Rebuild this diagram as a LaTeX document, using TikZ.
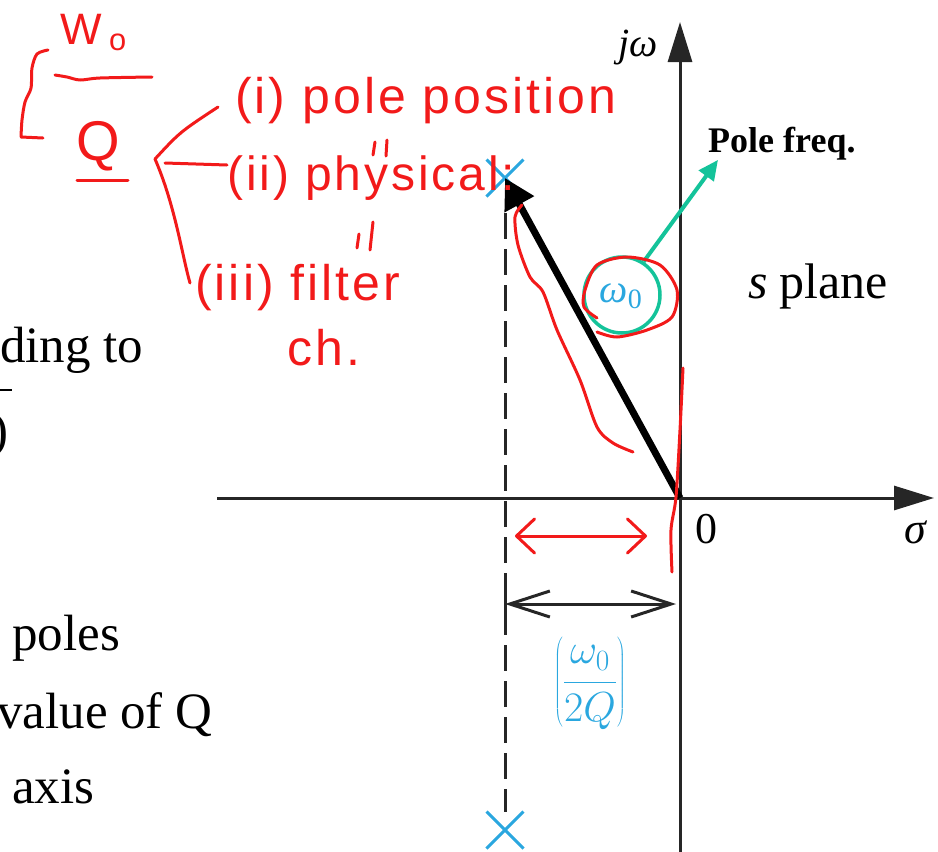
\documentclass[tikz,border=0pt]{standalone}
\usepackage{fix-cm}
\usepackage{fontspec}
\setmainfont{Liberation Serif}
\newfontfamily\handfont[LetterSpace=6]{Liberation Sans}
\usetikzlibrary{arrows.meta, positioning, shapes.misc}
\definecolor{axInk}{HTML}{262626}
\definecolor{poleBlue}{HTML}{2AA7DF}
\definecolor{penRed}{HTML}{F21A1A}
\definecolor{penGreen}{HTML}{14C39A}
\newcommand{\sz}[1]{\fontsize{#1}{#1}\selectfont}

\begin{document}
\begin{tikzpicture}[x=1pt, y=-1pt,
        axis/.style={draw=axInk, line width=3pt, -{Triangle[length=40pt, width=24pt]}},
        vec/.style={draw=black, line width=7pt, -{Triangle[length=30pt, width=32pt]}},
        pole/.style={cross out, draw=poleBlue, line width=3pt, minimum size=34pt, inner sep=0pt},
        dashln/.style={draw=axInk, line width=3pt, dash pattern=on 26pt off 10pt},
        dim/.style={draw=axInk, line width=3pt, {Straight Barb[length=40pt, width=26pt]}-{Straight Barb[length=40pt, width=26pt]}},
        pen/.style={draw=penRed, line width=3pt, line cap=round, line join=round},
        penarr/.style={pen, {Straight Barb[length=18pt, width=34pt, round]}-{Straight Barb[length=18pt, width=34pt, round]}},
        garr/.style={draw=penGreen, line width=4pt, -{Triangle[length=20pt, width=18pt]}},
        lbl/.style={inner sep=0pt, anchor=base west},
        hand/.style={lbl, text=penRed, font=\handfont\sz{50}}]
        \useasboundingbox (0,0) rectangle (938,852);
        \clip (0,0) rectangle (938,852);

        % text on the slide, cut at the left edge
        \node[lbl, font=\sz{51}] (l1) at (0,362) {ding to};
        \node[lbl, font=\sz{51}, anchor=base east] (l2) at (9,447) {)};
        \draw[line width=2pt] (0,390) -- (12,390);
        \node[lbl, font=\sz{51}] (l3) at (12,650) {poles};
        \node[lbl, font=\sz{51}] (l4) at (-3,728) {value of Q};
        \node[lbl, font=\sz{51}] (l5) at (12,803) {axis};

        % s plane
        \coordinate (O) at (680,498);
        \coordinate (xl) at (217,498);
        \coordinate (xr) at (934,498);
        \coordinate (yb) at (680,860);
        \coordinate (yt) at (680,22);
        \draw[axis] (xl) -- (xr);
        \draw[axis] (yb) -- (yt);
        \node[lbl, font=\sz{40}, anchor=base east] (jw) at (658,56) {\textit{jω}};
        \node[lbl, font=\sz{44}] (zero) at (695,543) {0};
        \node[lbl, font=\sz{44}] (sig) at (904,543) {\textit{σ}};
        \node[lbl, font=\sz{50}] (sp) at (748,298) {\textit{s}\hspace{12pt}plane};

        \node[pole] (p1) at (505,178) {};
        \node[pole] (p2) at (505,830) {};
        \draw[dashln] ([yshift=-35pt]p1.center) -- (p2.north);
        \draw[vec] (O) -- (p1.center);

        \coordinate (dl) at (505,604);
        \coordinate (dr) at (676,604);
        \draw[dim] (dl) -- (dr);
        \draw[draw=axInk, line width=3pt] (505,588) -- (505,620);
        \node[text=poleBlue, font=\sz{42}] (frac) at (590,683) {$\displaystyle\left(\frac{\omega_0}{2Q}\right)$};

        \node[circle, draw=penGreen, line width=3.5pt, minimum size=76pt, inner sep=0pt] (w0c) at (622,295) {};
        \node[text=poleBlue, font=\sz{40}] (w0) at (621,296) {\textit{ω}\textsubscript{0}};
        \node[lbl, font=\bfseries\sz{36}] (pf) at (708,152) {Pole freq.};
        \draw[garr] (w0c.57) -- ([xshift=10pt]pf.south west);

        % pen notes
        \node[hand, font=\handfont\sz{44}] (hw) at (60,44) {W\,\textsubscript{o}};
        \node[hand, font=\handfont\sz{56}] (hq) at (76,160) {Q};
        \draw[pen] plot[smooth] coordinates {(55,75) (67,77) (80,80) (100,78) (152,77)};
        \draw[pen] plot[smooth] coordinates {(48,50) (37,54) (32,68) (31,88) (25,102) (22,120) (21,137)} -- (43,138);
        \draw[pen] (77,180) -- (128,180);
        \node[hand] (t1) at (235,113) {(i) pole position};
        \node[hand, font=\handfont\sz{48}] (t2) at (227,190) {(ii) physical:};
        \node[hand] (t3) at (195,300) {(iii) filter};
        \node[hand] (t4) at (287,365) {ch.};
        \coordinate (br) at (155,159);
        \coordinate (b1) at (218,107);
        \coordinate (b2a) at (165,163);
        \coordinate (b2) at (227,165);
        \coordinate (b3) at (190,283);
        \draw[pen] (br) .. controls (180,132) .. (b1);
        \draw[pen] (b2a) -- (b2);
        \draw[pen] (br) .. controls (175,205) and (182,255) .. (b3);
        \draw[pen] (375,142) -- (373,155) (387,140) -- (386,156);
        \draw[pen] (359,234) -- (357,248) (373,222) -- (370,250);

        \draw[pen] plot[smooth] coordinates {(522,205) (515,217) (518,245) (530,277) (543,292) (557,330) (580,380) (597,427) (613,443) (633,452)};
        \draw[pen] plot[smooth] coordinates {(597,318) (584,307) (585,290) (597,265) (627,257) (660,265) (677,290) (672,317) (647,330) (617,337) (597,332)};
        \draw[pen] plot[smooth] coordinates {(683,368) (680,430) (676,497) (671,530) (672,572)};
        \coordinate (ra1) at (515,536);
        \coordinate (ra2) at (647,536);
        \draw[penarr] (ra1) -- (ra2);
      \end{tikzpicture}
\end{document}
